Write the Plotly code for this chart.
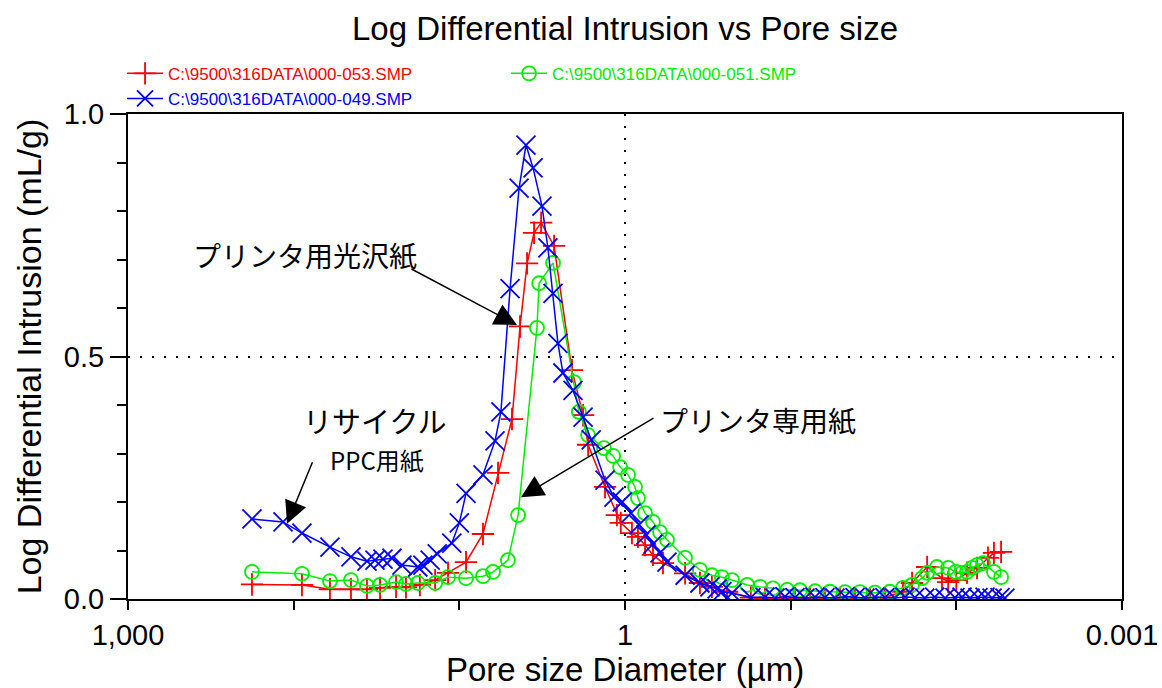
import plotly.graph_objects as go

# ---- data (pore diameter in um, log differential intrusion in mL/g) ----
red_name = "C:\\9500\\316DATA\\000-053.SMP"
red_d = [178.5, 89.1, 60.4, 45.1, 36.1, 30.1, 24.1, 21.0, 17.3, 14.0, 11.7, 9.11, 7.20,
         5.84, 4.81, 4.30, 3.90, 3.54, 3.21, 2.68, 2.09, 1.79, 1.67, 1.32, 1.12, 1.06,
         0.908, 0.835, 0.757, 0.678, 0.590, 0.434, 0.353, 0.299, 0.242, 0.174,
         0.143, 0.116, 0.0942, 0.0764, 0.0621, 0.0504, 0.0409, 0.0332, 0.0270,
         0.0210, 0.0185, 0.0150, 0.0122, 0.0112, 0.0100, 0.00862, 0.00750, 0.00644,
         0.00593, 0.00537]
red_v = [0.030, 0.029, 0.020, 0.020, 0.020, 0.023, 0.025, 0.024, 0.029, 0.039, 0.054, 0.076, 0.134,
         0.260, 0.371, 0.562, 0.692, 0.755, 0.776, 0.728, 0.472, 0.379, 0.318, 0.231, 0.173, 0.157,
         0.136, 0.128, 0.111, 0.091, 0.074, 0.053, 0.033, 0.025, 0.015, 0.003,
         0.002, 0.001, 0.002, 0.001, 0.002, 0.001, 0.002, 0.001, 0.003,
         0.015, 0.033, 0.066, 0.043, 0.035, 0.039, 0.054, 0.064, 0.085,
         0.095, 0.097]

green_name = "C:\\9500\\316DATA\\000-051.SMP"
green_d = [178.5, 89.1, 60.4, 45.1, 36.1, 30.1, 24.1, 21.0, 17.8, 14.0, 11.7, 9.11, 7.20,
           6.26, 5.09, 4.42, 3.40, 3.30, 2.72, 2.03, 1.90, 1.67, 1.34, 1.18, 1.07, 0.959,
           0.870, 0.835, 0.757, 0.678, 0.615, 0.558, 0.434, 0.353, 0.299, 0.260, 0.226,
           0.183, 0.153, 0.128, 0.105, 0.0879, 0.0713, 0.0579, 0.0470, 0.0382, 0.0310,
           0.0252, 0.0210, 0.0185, 0.0161, 0.0150, 0.0131, 0.0112, 0.0101, 0.00924,
           0.00862, 0.00804, 0.00750, 0.00690, 0.00593, 0.00537]
green_v = [0.056, 0.052, 0.037, 0.039, 0.027, 0.029, 0.035, 0.031, 0.033, 0.033, 0.045, 0.043, 0.047,
           0.056, 0.080, 0.173, 0.559, 0.651, 0.693, 0.447, 0.386, 0.338, 0.311, 0.295, 0.272, 0.256,
           0.231, 0.208, 0.177, 0.159, 0.138, 0.122, 0.085, 0.060, 0.049, 0.045, 0.039,
           0.029, 0.025, 0.022, 0.019, 0.018, 0.016, 0.015, 0.014, 0.014, 0.013,
           0.015, 0.023, 0.029, 0.043, 0.054, 0.066, 0.064, 0.056, 0.054,
           0.056, 0.064, 0.070, 0.074, 0.056, 0.045]

blue_name = "C:\\9500\\316DATA\\000-049.SMP"
blue_d = [178.5, 116, 89.1, 60.4, 45.1, 36.1, 32.3, 28.9, 25.5, 22.2, 17.8, 16.6, 15.0, 13.6,
          11.1, 10.0, 9.11, 7.20, 6.09, 5.61, 4.94, 4.36, 3.96, 3.59, 3.17, 2.92, 2.72, 2.54,
          2.37, 2.06, 1.79, 1.60, 1.32, 1.165, 1.04, 0.920, 0.823, 0.747, 0.678, 0.615, 0.558,
          0.434, 0.353, 0.307, 0.278, 0.260, 0.226, 0.174,
          0.143, 0.1243, 0.1083, 0.0942, 0.0819, 0.0713, 0.0621, 0.0540, 0.0470, 0.0409,
          0.0356, 0.0310, 0.0270, 0.0235, 0.0204, 0.0178, 0.0155, 0.0135, 0.0117, 0.0102,
          0.00924, 0.00827, 0.00740, 0.00671, 0.00609, 0.00545, 0.00509]
blue_v = [0.165, 0.159, 0.136, 0.107, 0.087, 0.078, 0.080, 0.082, 0.084, 0.070, 0.066, 0.070, 0.080, 0.093,
          0.115, 0.157, 0.218, 0.256, 0.326, 0.386, 0.640, 0.847, 0.936, 0.889, 0.810, 0.724, 0.630, 0.527,
          0.466, 0.430, 0.375, 0.328, 0.245, 0.210, 0.200, 0.177, 0.153, 0.132, 0.113, 0.095, 0.076,
          0.049, 0.033, 0.025, 0.021, 0.015, 0.012, 0.003,
          0.004, 0.002, 0.005, 0.003, 0.002, 0.004, 0.003, 0.002, 0.005, 0.003,
          0.002, 0.004, 0.003, 0.002, 0.004, 0.003, 0.002, 0.004, 0.002, 0.003,
          0.004, 0.002, 0.003, 0.004, 0.002, 0.003, 0.002]

x_tickvals = [1000, 1, 0.001]
x_ticktext = ["1,000", "1", "0.001"]
x_minor = [100, 10, 0.1, 0.01]
y_tickvals = [0, 0.5, 1.0]
y_ticktext = ["0.0", "0.5", "1.0"]

title_text = "Log Differential Intrusion vs Pore size"
x_title = "Pore size Diameter (µm)"
y_title = "Log Differential Intrusion (mL/g)"

FONT = "Liberation Sans, Arial, sans-serif"
JP = "Noto Sans CJK JP, sans-serif"

fig = go.Figure()

series = [
    (red_name, red_d, red_v, "#FF0000", "cross-thin", 16, 1),
    (green_name, green_d, green_v, "#00EE00", "circle-open", 14, 2),
    (blue_name, blue_d, blue_v, "#0000FF", "x-thin", 19, 3),
]
for name, d, v, col, sym, sz, rank in series:
    fig.add_trace(go.Scatter(
        x=d, y=v, mode="lines+markers",
        name=f"<span style='color:{col}'>{name}</span>",
        legendrank=rank,
        line=dict(color=col, width=1.5),
        marker=dict(symbol=sym, size=sz, color=col, line=dict(color=col, width=1.8)),
    ))

ann = []
# arrow annotations (tip x,y ; tail ax,ay) in axis coords, x as log10
arrows = [
    (0.652, 0.565, 1.298, 0.682),
    (0.628, 0.210, -0.181, 0.375),
    (2.040, 0.155, 1.883, 0.285),
]
for x, y, ax, ay in arrows:
    ann.append(dict(x=x, y=y, ax=ax, ay=ay, xref="x", yref="y", axref="x", ayref="y",
                    text="", showarrow=True, arrowhead=2, arrowsize=3.0, arrowwidth=1.5,
                    arrowcolor="black"))
labels = [
    ("プリンタ用光沢紙", 1.93, 0.709, 28, "center"),
    ("プリンタ専用紙", -0.199, 0.369, 28, "left"),
    ("リサイクル", 1.509, 0.369, 29, "center"),
    ("PPC用紙", 1.497, 0.287, 24, "center"),
]
for t, x, y, s, al in labels:
    ann.append(dict(x=x, y=y, xref="x", yref="y", text=t, showarrow=False,
                    xanchor=al, yanchor="middle",
                    font=dict(family=JP, size=s, color="black")))

fig.update_layout(
    width=1162, height=688,
    paper_bgcolor="white", plot_bgcolor="white",
    margin=dict(l=128, r=40, t=114, b=89, autoexpand=False),
    title=dict(text=title_text, x=0.5, xref="paper", y=1 - 28 / 688, yref="container",
               xanchor="center", yanchor="middle",
               font=dict(family=FONT, size=33, color="black")),
    font=dict(family=FONT, color="black"),
    showlegend=True,
    legend=dict(orientation="h", x=-0.006, y=1.120, xanchor="left", yanchor="top",
                entrywidthmode="pixels", entrywidth=333,
                font=dict(family=FONT, size=17), bgcolor="rgba(0,0,0,0)",
                tracegroupgap=0, itemwidth=36),
    annotations=ann,
)

fig.update_xaxes(
    type="log", range=[3, -3], autorange=False, automargin=False,
    tickmode="array", tickvals=x_tickvals, ticktext=x_ticktext,
    ticks="outside", ticklen=9, tickwidth=2, tickcolor="black",
    minor=dict(tickmode="array", tickvals=x_minor, ticks="outside", ticklen=9,
               tickwidth=2, tickcolor="black", showgrid=False),
    showline=True, linecolor="black", linewidth=2, mirror=True,
    showgrid=True, gridcolor="black", gridwidth=1.5, griddash="2px,10px",
    zeroline=False,
    tickfont=dict(family=FONT, size=29, color="black"),
    title=dict(text=x_title, font=dict(family=FONT, size=33, color="black"), standoff=0),
)
fig.update_yaxes(
    range=[0, 1.0], autorange=False, automargin=False,
    tickmode="array", tickvals=y_tickvals, ticktext=y_ticktext,
    ticks="outside", ticklen=16, tickwidth=2, tickcolor="black",
    minor=dict(dtick=0.1, ticks="outside", ticklen=9, tickwidth=2, tickcolor="black",
               showgrid=False),
    showline=True, linecolor="black", linewidth=2, mirror=True,
    showgrid=True, gridcolor="black", gridwidth=1.5, griddash="2px,10px",
    zeroline=False,
    tickfont=dict(family=FONT, size=29, color="black"),
    title=dict(text=y_title, font=dict(family=FONT, size=34, color="black"), standoff=12),
)

fig.write_html("out.html", config={"displayModeBar": False},
               post_script="document.body.style.margin='0';")
